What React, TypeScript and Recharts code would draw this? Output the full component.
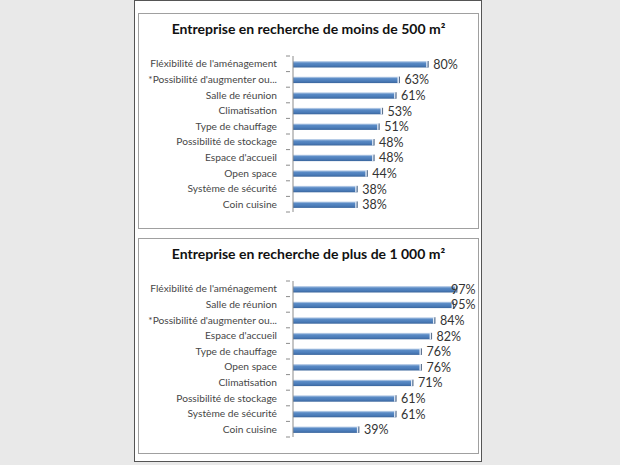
import { Bar, BarChart, LabelList, XAxis, YAxis } from "recharts";

const categoriesSmall = [
  "Fléxibilité de l'aménagement",
  "*Possibilité d'augmenter ou...",
  "Salle de réunion",
  "Climatisation",
  "Type de chauffage",
  "Possibilité de stockage",
  "Espace d'accueil",
  "Open space",
  "Système de sécurité",
  "Coin cuisine"
];
const valuesSmall = [80, 63, 61, 53, 51, 48, 48, 44, 38, 38];

const categoriesLarge = [
  "Fléxibilité de l'aménagement",
  "Salle de réunion",
  "*Possibilité d'augmenter ou...",
  "Espace d'accueil",
  "Type de chauffage",
  "Open space",
  "Climatisation",
  "Possibilité de stockage",
  "Système de sécurité",
  "Coin cuisine"
];
const valuesLarge = [97, 95, 84, 82, 76, 76, 71, 61, 61, 39];

const FONT = "Lato, 'Open Sans', sans-serif";
const CHART_W = 339;
const CHART_H = 214;
const HALF_BAND = 7.8;

function CategoryTick(props: any) {
  const { x, y, payload } = props;
  return (
    <g>
      <line x1={x + 1} y1={y - HALF_BAND} x2={x + 5} y2={y - HALF_BAND} stroke="#8c8c8c" />
      {payload.index === 9 ? (
        <line x1={x + 1} y1={y + HALF_BAND} x2={x + 5} y2={y + HALF_BAND} stroke="#8c8c8c" />
      ) : null}
      <text x={x - 8} y={y} dy={3.5} textAnchor="end" fontSize={10.2} fill="#474747" fontFamily={FONT}>
        {payload.value}
      </text>
    </g>
  );
}

function ValueLabel(props: any) {
  const { x, y, width, height, value } = props;
  // keep the label inside the frame, like Excel does near the edge
  const tx = Math.min(x + width + 5, CHART_W - 27);
  return (
    <text x={tx} y={y + height / 2} dy={4.5} fontSize={12.5} fill="#333" fontFamily={FONT}>
      {`${value}%`}
    </text>
  );
}

function makeBarShape(gradId: string) {
  return function BarShape(props: any) {
    const { x, y, width, height } = props;
    if (!width || width <= 0) return null;
    return (
      <g>
        <rect x={x} y={y} width={width} height={height} fill={`url(#${gradId})`} />
        <rect x={x + width - 2} y={y} width={1.5} height={height} fill="#e4ecf7" />
        <rect x={x + width - 0.5} y={y} width={1} height={height} fill="#5b6f8a" />
      </g>
    );
  };
}

interface PanelProps {
  title: string;
  categories: string[];
  values: number[];
  gradId: string;
  top: number;
}

function Panel({ title, categories, values, gradId, top }: PanelProps) {
  const data = categories.map((name, i) => ({ name, value: values[i] }));
  return (
    <div
      style={{
        position: "absolute",
        left: 138,
        top,
        width: CHART_W,
        height: CHART_H,
        border: "1px solid #a0a0a0",
        background: "#ffffff"
      }}
    >
      <div
        style={{
          position: "absolute",
          left: 0,
          top: 6,
          width: CHART_W,
          textAlign: "center",
          fontFamily: FONT,
          fontWeight: 700,
          fontSize: 14,
          color: "#111"
        }}
      >
        {title}
      </div>
      <BarChart
        width={CHART_W}
        height={CHART_H}
        data={data}
        layout="vertical"
        margin={{ top: 42, right: 16, bottom: 16, left: 0 }}
        barCategoryGap={0}
      >
        <defs>
          <linearGradient id={gradId} x1="0" y1="0" x2="0" y2="1">
            <stop offset="0" stopColor="#d6e2f2" />
            <stop offset="0.3" stopColor="#5a8bc6" />
            <stop offset="0.7" stopColor="#4a7bb8" />
            <stop offset="1" stopColor="#3a659c" />
          </linearGradient>
        </defs>
        <XAxis type="number" domain={[0, 100]} hide />
        <YAxis
          type="category"
          dataKey="name"
          width={154}
          axisLine={{ stroke: "#8c8c8c" }}
          tickLine={false}
          interval={0}
          tick={<CategoryTick />}
        />
        <Bar dataKey="value" barSize={6.5} isAnimationActive={false} shape={makeBarShape(gradId)}>
          <LabelList dataKey="value" content={<ValueLabel />} />
        </Bar>
      </BarChart>
    </div>
  );
}

export default function App() {
  return (
    <div
      style={{
        position: "absolute",
        left: 0,
        top: 0,
        width: 620,
        height: 465,
        background: "#e9e9e9",
        overflow: "hidden"
      }}
    >
      <div
        style={{
          position: "absolute",
          left: 134,
          top: 0,
          width: 346,
          height: 460,
          border: "1px solid #555",
          background: "#ffffff"
        }}
      />
      <Panel
        title="Entreprise en recherche de moins de 500 m²"
        categories={categoriesSmall}
        values={valuesSmall}
        gradId="gradSmall"
        top={13}
      />
      <Panel
        title="Entreprise en recherche de plus de 1 000 m²"
        categories={categoriesLarge}
        values={valuesLarge}
        gradId="gradLarge"
        top={238}
      />
    </div>
  );
}
